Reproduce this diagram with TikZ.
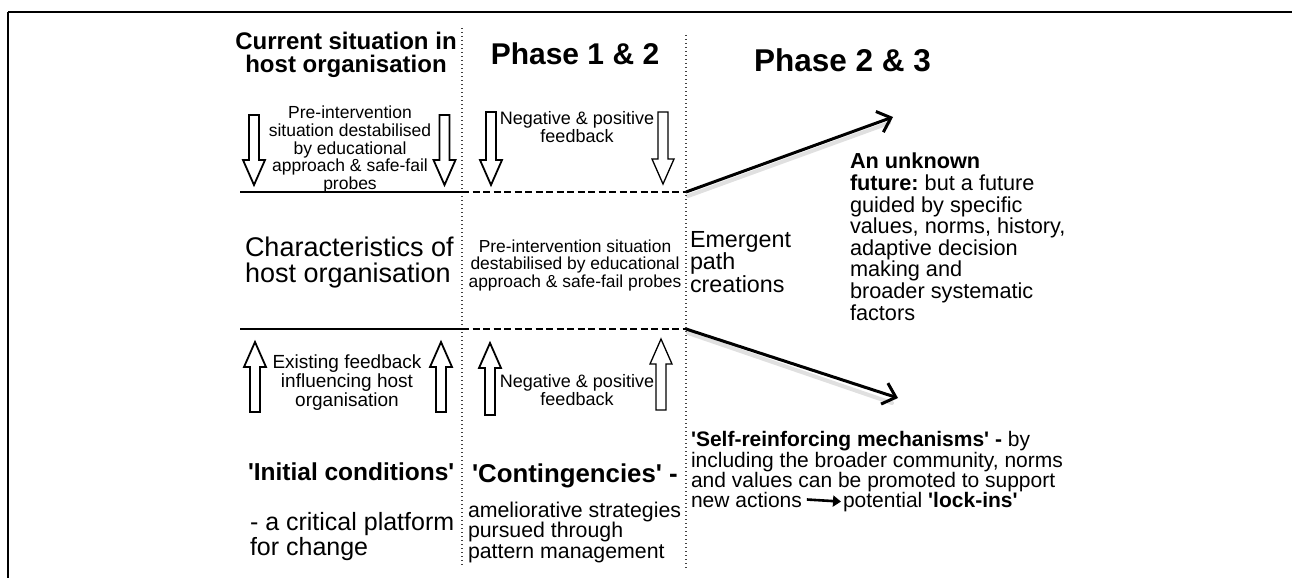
\documentclass[tikz,border=0pt]{standalone}
\usepackage{fontspec}
\setmainfont{Liberation Sans}
\usetikzlibrary{arrows.meta}
\newcommand{\sq}{\textquotesingle}
\newcommand{\barrowpath}[4][]{%
  \pgfmathsetmacro{\bhb}{#4-25*sign(#4-#3)}%
  \draw[blockarrow,#1] (#2-5,#3) -- (#2-5,\bhb) -- (#2-11,\bhb) -- (#2,#4) -- (#2+11,\bhb) -- (#2+5,\bhb) -- (#2+5,#3) -- cycle;}
\frenchspacing
\begin{document}
\begin{tikzpicture}[x=1pt,y=-1pt,
  txt/.style={inner sep=0pt, outer sep=0pt},
  blockarrow/.style={draw=black, line width=1.8pt, fill=white, line join=miter},
  thinblock/.style={line width=1.3pt},
  frameline/.style={line width=2.4pt, black},
  solidsep/.style={line width=2pt, black},
  dashsep/.style={line width=1.8pt, black, dash pattern=on 7pt off 3.5pt},
  dotsep/.style={line width=1.4pt, black!75, dash pattern=on 1.4pt off 2.6pt},
  bigarrow/.style={line width=3pt, black, -{Straight Barb[length=12pt,width=22pt]}},
  shadowline/.style={line width=4pt, black, opacity=0.12, line cap=round},
  smallarrow/.style={line width=2.6pt, black, -{Triangle[length=8pt,width=11pt]}}
]
\useasboundingbox (0,0) rectangle (1292,578);
\fill[white] (0,0) rectangle (1292,578);
% frame
\draw[frameline] (8,12) -- (1292,12);
\draw[frameline] (8,12) -- (8,578);
% dotted column separators
\draw[dotsep] (462,28) -- (462,566);
\draw[dotsep] (686,35) -- (686,570);
% horizontal separators
\draw[solidsep] (240,192) -- (462,192);
\draw[solidsep] (240,329) -- (462,329);
\draw[dashsep] (462,192) -- (686,192);
\draw[dashsep] (462,329) -- (686,329);

% column 1
\node[txt, anchor=base, align=center, font=\bfseries\fontsize{24}{23}\selectfont] (c1title) at (346,73) {Current situation in\\host organisation};
\barrowpath{254}{115}{185}
\barrowpath{444.5}{115}{185}
\node[txt, anchor=base, align=center, font=\fontsize{17.5}{17.7}\selectfont] (c1pre) at (350,189.5) {Pre-intervention\\situation destabilised\\by educational\\approach \& safe-fail\\probes};
\node[txt, anchor=base west, align=left, font=\fontsize{27}{26}\selectfont] (c1char) at (245,282) {Characteristics of\\host organisation};
\barrowpath{255}{412}{342}
\barrowpath{441}{412}{342}
\node[txt, anchor=base, align=center, font=\fontsize{19}{19}\selectfont] (c1exist) at (347,406) {Existing feedback\\influencing host\\organisation};
\node[txt, anchor=base west, font=\bfseries\fontsize{24.5}{25}\selectfont] (c1init) at (248,480) {\sq Initial conditions\sq};
\node[txt, anchor=base west, align=left, font=\fontsize{25}{25}\selectfont] (c1crit) at (250,555) {- a critical platform\\for change};

% column 2
\node[txt, anchor=base, font=\bfseries\fontsize{30}{30}\selectfont] (c2title) at (575,65) {Phase 1 \& 2};
\barrowpath{491}{112}{185}
\barrowpath[thinblock]{663}{112}{184}
\node[txt, anchor=base, align=center, font=\fontsize{18}{18}\selectfont] (c2fbtop) at (577,142) {Negative \& positive\\feedback};
\node[txt, anchor=base, align=center, font=\fontsize{17.4}{17.5}\selectfont] (c2pre) at (575,287) {Pre-intervention situation\\destabilised by educational\\approach \& safe-fail probes};
\barrowpath{490}{415}{343}
\barrowpath[thinblock]{661}{410}{339}
\node[txt, anchor=base, align=center, font=\fontsize{18}{18}\selectfont] (c2fbbot) at (577,405) {Negative \& positive\\feedback};
\node[txt, anchor=base west, font=\bfseries\fontsize{25.8}{26}\selectfont] (c2cont) at (472,482) {\sq Contingencies\sq{} -};
\node[txt, anchor=base west, align=left, font=\fontsize{21.3}{20.5}\selectfont] (c2amel) at (468,558) {ameliorative strategies\\pursued through\\pattern management};

% column 3
\node[txt, anchor=base west, font=\bfseries\fontsize{31.5}{31.5}\selectfont] (c3title) at (754,71) {Phase 2 \& 3};
\coordinate (up0) at (686,192);
\coordinate (up1) at (893,117);
\coordinate (dn0) at (686,329);
\coordinate (dn1) at (898,398);
\draw[shadowline] ([shift={(2,4)}]up0) -- ([shift={(-4,6)}]up1);
\draw[shadowline] ([shift={(2,4)}]dn0) -- ([shift={(-6,5)}]dn1);
\draw[bigarrow] (up0) -- (up1);
\draw[bigarrow] (dn0) -- (dn1);
\node[txt, anchor=base west, align=left, font=\fontsize{23.3}{22.5}\selectfont] (c3emerg) at (690,292) {Emergent\\path\\creations};
\node[txt, anchor=base west, align=left, font=\fontsize{21.7}{21.6}\selectfont] (c3future) at (850,320) {\textbf{An unknown}\\\textbf{future:} but a future\\guided by specific\\values, norms, history,\\adaptive decision\\making and\\broader systematic\\factors};
\node[txt, anchor=base west, align=left, font=\fontsize{21}{19.6}\selectfont] (c3self) at (691,487.2) {\textbf{\sq Self-reinforcing mechanisms\sq{} -} by\\including the broader community, norms\\and values can be promoted to support};
\node[txt, anchor=base west, font=\fontsize{21}{19.6}\selectfont] (c3new) at (691,507) {new actions};
\node[txt, anchor=base west, font=\fontsize{21}{19.6}\selectfont] (c3pot) at (843,507) {potential \textbf{\sq lock-ins\sq}};
\draw[smallarrow] ([xshift=5pt]c3new.east) -- ([xshift=-2pt]c3pot.west);
\end{tikzpicture}
\end{document}
